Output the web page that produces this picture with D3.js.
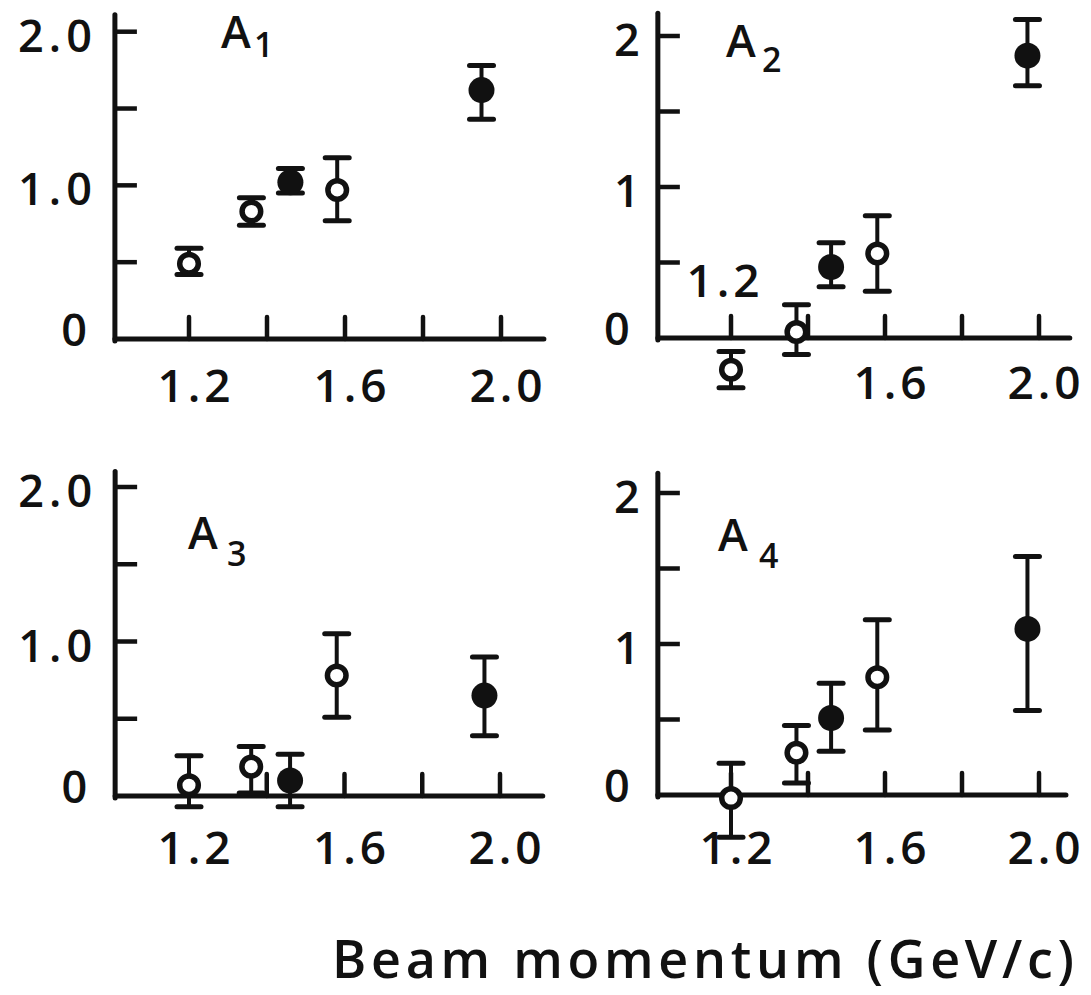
<!DOCTYPE html>
<html><head><meta charset="utf-8">
<script src="https://cdn.jsdelivr.net/npm/d3@7"></script>
<style>
body{margin:0;background:#fff}
svg{display:block}
text{font-family:"Open Sans",sans-serif;fill:#111;font-weight:600}
</style>
</head><body>
<svg id="chart" width="1091" height="995"></svg>
<script>
// ---------- data ----------
const xTickValues = [1.2, 1.4, 1.6, 1.8, 2.0];
const xTickLabels = ["1.2", "1.6", "2.0"];
const yTickValues = [0.5, 1.0, 1.5, 2.0];
const yLabelsLeft = ["0", "1.0", "2.0"];
const yLabelsRight = ["0", "1", "2"];
const markerFilled = [false, false, true, false, true];

const a1Momentum = [1.20, 1.36, 1.46, 1.58, 1.95];
const a1Value    = [0.49, 0.83, 1.02, 0.97, 1.62];
const a1ErrHigh  = [0.59, 0.92, 1.11, 1.18, 1.78];
const a1ErrLow   = [0.42, 0.74, 0.95, 0.77, 1.43];

const a2Momentum = [1.20, 1.37, 1.46, 1.58, 1.97];
const a2Value    = [-0.21, 0.04, 0.47, 0.56, 1.87];
const a2ErrHigh  = [-0.09, 0.22, 0.63, 0.81, 2.11];
const a2ErrLow   = [-0.33, -0.11, 0.34, 0.31, 1.67];

const a3Momentum = [1.20, 1.36, 1.46, 1.58, 1.96];
const a3Value    = [0.07, 0.19, 0.10, 0.78, 0.65];
const a3ErrHigh  = [0.26, 0.32, 0.27, 1.05, 0.90];
const a3ErrLow   = [-0.07, 0.02, -0.07, 0.51, 0.39];

const a4Momentum = [1.20, 1.37, 1.46, 1.58, 1.97];
const a4Value    = [-0.02, 0.28, 0.51, 0.78, 1.10];
const a4ErrHigh  = [0.21, 0.46, 0.74, 1.16, 1.58];
const a4ErrLow   = [-0.28, 0.08, 0.29, 0.43, 0.56];

const titleText = "Beam momentum (GeV/c)";

// ---------- layout ----------
const panels = [
  {name:"A", sub:"1", mom:a1Momentum, val:a1Value, hi:a1ErrHigh, lo:a1ErrLow, yLabels:yLabelsLeft,
   xr:[189,501], yr:[339,31.7], xStart:1.01, xEnd:2.11, yTop:2.11,
   nameX:221, nameY:48, subX:254, subY:57, xLabelY:402, xLabelOverride:null},
  {name:"A", sub:"2", mom:a2Momentum, val:a2Value, hi:a2ErrHigh, lo:a2ErrLow, yLabels:yLabelsRight,
   xr:[731,1039], yr:[338,36], xStart:1.01, xEnd:2.08, yTop:2.15,
   nameX:726, nameY:57, subX:762, subY:72, xLabelY:399, xLabelOverride:{i:0, x:722, y:297}},
  {name:"A", sub:"3", mom:a3Momentum, val:a3Value, hi:a3ErrHigh, lo:a3ErrLow, yLabels:yLabelsLeft,
   xr:[189,500], yr:[796,487], xStart:1.01, xEnd:2.11, yTop:2.10,
   nameX:188, nameY:549, subX:227, subY:566, xLabelY:864, xLabelOverride:null},
  {name:"A", sub:"4", mom:a4Momentum, val:a4Value, hi:a4ErrHigh, lo:a4ErrLow, yLabels:yLabelsRight,
   xr:[731,1039], yr:[795,493], xStart:1.01, xEnd:2.07, yTop:2.13,
   nameX:718, nameY:551, subX:759, subY:568, xLabelY:864, xLabelOverride:null}
];

const svg = d3.select("#chart");
svg.append("rect").attr("width",1091).attr("height",995).attr("fill","#fff");
const ink = "#111";

panels.forEach(p => {
  const x = d3.scaleLinear().domain([1.2, 2.0]).range(p.xr);
  const y = d3.scaleLinear().domain([0, 2]).range(p.yr);
  const g = svg.append("g");
  const x0 = x(p.xStart), y0 = y(0);

  // axis lines
  g.append("line").attr("x1", x0).attr("x2", x0).attr("y1", y0 + 2).attr("y2", y(p.yTop))
    .attr("stroke", ink).attr("stroke-width", 5).attr("stroke-linecap","round");
  g.append("line").attr("x1", x0).attr("x2", x(p.xEnd)).attr("y1", y0).attr("y2", y0)
    .attr("stroke", ink).attr("stroke-width", 5).attr("stroke-linecap","round");

  // y ticks (inward, right)
  g.selectAll(".yt").data(yTickValues).enter().append("line")
    .attr("x1", x0).attr("x2", x0 + 22).attr("y1", d => y(d)).attr("y2", d => y(d))
    .attr("stroke", ink).attr("stroke-width", 4.5);
  // x ticks (upward)
  g.selectAll(".xt").data(xTickValues).enter().append("line")
    .attr("x1", d => x(d)).attr("x2", d => x(d)).attr("y1", y0).attr("y2", y0 - 22)
    .attr("stroke", ink).attr("stroke-width", 4.5).attr("stroke-linecap","round");

  // y labels at 0, 1, 2
  [0, 1, 2].forEach((v, i) => {
    const isZero = v === 0;
    g.append("text")
      .attr("x", isZero ? x0 - 28 : x0 - 18)
      .attr("y", isZero ? y(v) + 7 : y(v) + 20)
      .attr("text-anchor", "end")
      .attr("font-size", 45)
      .attr("letter-spacing", p.yLabels[i].length > 1 ? 5 : 0)
      .text(p.yLabels[i]);
  });

  // x labels at 1.2, 1.6, 2.0
  [1.2, 1.6, 2.0].forEach((v, i) => {
    let lx = x(v) + 4, ly = p.xLabelY;
    if (p.xLabelOverride && p.xLabelOverride.i === i) { lx = p.xLabelOverride.x; ly = p.xLabelOverride.y; }
    g.append("text").attr("x", lx + 3).attr("y", ly)
      .attr("text-anchor", "middle").attr("font-size", 46)
      .attr("letter-spacing", 4)
      .text(xTickLabels[i]);
  });

  // panel name
  g.append("text").attr("x", p.nameX).attr("y", p.nameY).attr("font-size", 45).text(p.name);
  g.append("text").attr("x", p.subX).attr("y", p.subY).attr("font-size", 34).text(p.sub);

  // error bars + markers
  const pts = p.mom.map((m, i) => ({m, v:p.val[i], hi:p.hi[i], lo:p.lo[i], f:markerFilled[i]}));
  const pg = g.selectAll(".pt").data(pts).enter().append("g");
  pg.append("line").attr("x1", d => x(d.m)).attr("x2", d => x(d.m))
    .attr("y1", d => y(d.hi)).attr("y2", d => y(d.lo))
    .attr("stroke", ink).attr("stroke-width", 4);
  pg.append("line").attr("x1", d => x(d.m) - 12).attr("x2", d => x(d.m) + 12)
    .attr("y1", d => y(d.hi)).attr("y2", d => y(d.hi))
    .attr("stroke", ink).attr("stroke-width", 5).attr("stroke-linecap","round");
  pg.append("line").attr("x1", d => x(d.m) - 12).attr("x2", d => x(d.m) + 12)
    .attr("y1", d => y(d.lo)).attr("y2", d => y(d.lo))
    .attr("stroke", ink).attr("stroke-width", 5).attr("stroke-linecap","round");
  pg.append("circle").attr("cx", d => x(d.m)).attr("cy", d => y(d.v))
    .attr("r", d => d.f ? 13 : 9.3)
    .attr("fill", d => d.f ? ink : "#fff")
    .attr("stroke", ink).attr("stroke-width", d => d.f ? 0 : 5.5);
});

// axis title
svg.append("text").attr("x", 332).attr("y", 978)
  .attr("font-size", 52).attr("textLength", 742).attr("lengthAdjust", "spacing")
  .text(titleText);
</script>
</body></html>
